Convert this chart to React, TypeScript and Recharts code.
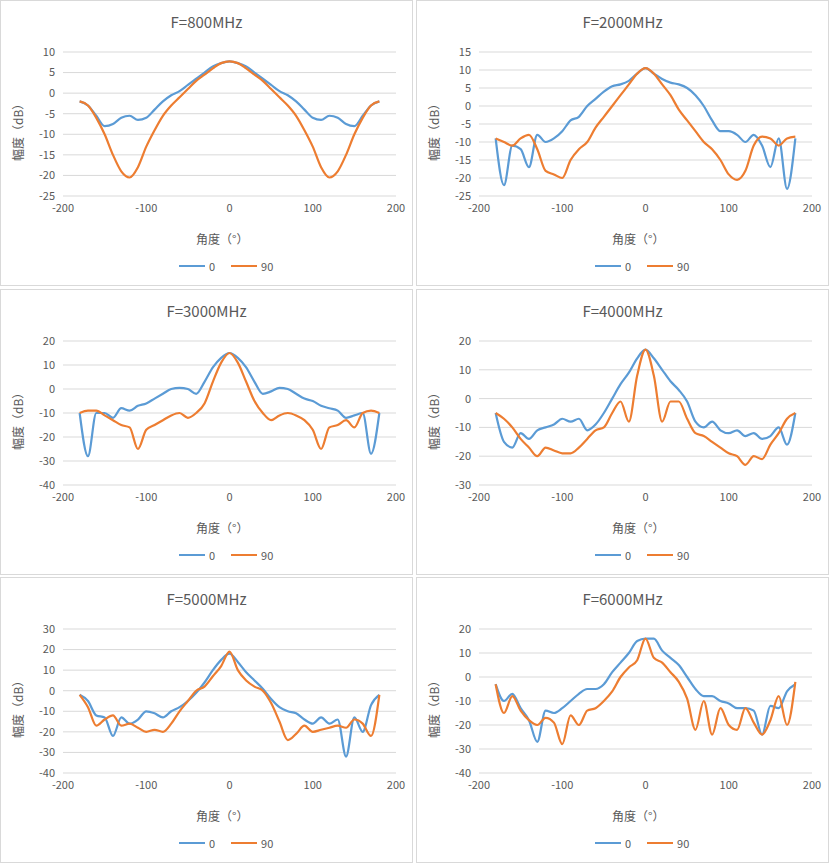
import React from 'react';
import { LineChart, Line, XAxis, YAxis, CartesianGrid } from 'recharts';

const ANGLES = [-180, -170, -160, -150, -140, -130, -120, -110, -100, -90, -80, -70, -60, -50, -40, -30, -20, -10, 0,
  10, 20, 30, 40, 50, 60, 70, 80, 90, 100, 110, 120, 130, 140, 150, 160, 170, 180];

const F800_0 = [-2, -3, -5.5, -8, -7.5, -6, -5.5, -6.5, -6, -4, -2, -0.5, 0.5, 2, 3.5, 5, 6.5, 7.3, 7.7,
  7.3, 6.5, 5, 3.5, 2, 0.5, -0.5, -2, -4, -6, -6.5, -5.5, -6, -7.5, -8, -5.5, -3, -2];
const F800_90 = [-2, -3, -6, -10, -15, -19, -20.5, -18, -13, -9, -5.5, -3, -1, 1, 3, 4.5, 6, 7.3, 7.7,
  7.3, 6, 4.5, 3, 1, -1, -3, -5.5, -9, -13, -18, -20.5, -19, -15, -10, -6, -3, -2];

const F2000_0 = [-9, -22, -11, -12, -17, -8, -10, -9, -7, -4, -3, 0, 2, 4, 5.5, 6, 7, 9, 10.5,
  9, 7.5, 6.5, 6, 5, 3, 0, -4, -7, -7, -8, -10, -8, -11, -17, -9, -23, -9];
const F2000_90 = [-9, -10, -11, -9, -8, -12, -18, -19, -20, -15, -12, -10, -6, -3, 0, 3, 6, 9, 10.5,
  9, 6, 3, -1, -4, -7, -10, -12, -15, -19, -20.5, -18, -11, -8.5, -9, -11, -9, -8.5];

const F3000_0 = [-10, -28, -10, -10, -12, -8, -9, -7, -6, -4, -2, 0, 0.5, 0, -2, 3, 9, 13, 15,
  13, 9, 3, -2, -1, 0.5, 0, -2, -4, -5, -7, -8, -9, -12, -11, -10, -27, -10];
const F3000_90 = [-10, -9, -9, -11, -13, -15, -16, -25, -17, -15, -13, -11, -10, -12, -10, -6, 3, 11, 15,
  11, 3, -5, -10, -13, -11, -10, -11, -13, -17, -25, -16, -15, -13, -16, -10, -9, -10];

const F4000_0 = [-5, -15, -17, -12, -14, -11, -10, -9, -7, -8, -7, -11, -9, -5, 0, 5, 9, 14, 17,
  14, 10, 6, 3, -1, -8, -10, -8, -11, -12, -11, -13, -12, -14, -13, -10, -16, -5];
const F4000_90 = [-5, -7, -10, -14, -17, -20, -17, -18, -19, -19, -17, -14, -11, -10, -5, -1, -8, 8, 17,
  8, -8, -1, -1, -7, -12, -13, -15, -17, -19, -20, -23, -20, -21, -16, -12, -7, -5];

const F5000_0 = [-2, -5, -12, -13, -22, -13, -16, -14, -10, -11, -13, -10, -8, -5, -1, 4, 10, 15, 18,
  14, 9, 5, 1, -4, -8, -10, -11, -14, -16, -13, -16, -14, -32, -13, -20, -7, -2];
const F5000_90 = [-2, -8, -17, -14, -12, -17, -16, -18, -20, -19, -20, -16, -10, -5, 0, 2, 7, 12, 19,
  10, 5, 2, 0, -6, -15, -24, -21, -17, -20, -19, -18, -17, -18, -14, -16, -22, -2];

const F6000_0 = [-3, -10, -7, -13, -18, -27, -14, -15, -13, -10, -7, -5, -5, -3, 2, 6, 10, 15, 16,
  16, 11, 8, 5, 0, -5, -8, -8, -10, -11, -13, -13, -14, -24, -12, -13, -6, -3];
const F6000_90 = [-3, -15, -8, -14, -18, -20, -17, -19, -28, -16, -20, -14, -13, -10, -6, 0, 4, 7, 16,
  8, 6, 2, -2, -9, -22, -10, -24, -13, -20, -22, -13, -19, -24, -18, -8, -20, -2];

const X_TICKS = [-200, -100, 0, 100, 200];

const PANELS = [
  { title: 'F=800MHz', s0: F800_0, s90: F800_90, y: [-25, 10], ticks: [-25, -20, -15, -10, -5, 0, 5, 10] },
  { title: 'F=2000MHz', s0: F2000_0, s90: F2000_90, y: [-25, 15], ticks: [-25, -20, -15, -10, -5, 0, 5, 10, 15] },
  { title: 'F=3000MHz', s0: F3000_0, s90: F3000_90, y: [-40, 20], ticks: [-40, -30, -20, -10, 0, 10, 20] },
  { title: 'F=4000MHz', s0: F4000_0, s90: F4000_90, y: [-30, 20], ticks: [-30, -20, -10, 0, 10, 20] },
  { title: 'F=5000MHz', s0: F5000_0, s90: F5000_90, y: [-40, 30], ticks: [-40, -30, -20, -10, 0, 10, 20, 30] },
  { title: 'F=6000MHz', s0: F6000_0, s90: F6000_90, y: [-40, 20], ticks: [-40, -30, -20, -10, 0, 10, 20] },
];

const BLUE = '#5b9bd5';
const ORANGE = '#ed7d31';
const FONT = '"Microsoft YaHei", "Noto Sans CJK SC", sans-serif';

const Panel = ({ p, left, top }: any) => {
  const data = ANGLES.map((a, i) => ({ a, s0: p.s0[i], s90: p.s90[i] }));
  return (
    <div style={{ position: 'absolute', left, top, width: 411, height: 284, border: '1px solid #d9d9d9', background: '#fff', fontFamily: FONT }}>
      <div style={{ position: 'absolute', top: 10, width: '100%', textAlign: 'center', fontSize: 15, color: '#595959' }}>{p.title}</div>
      <div style={{ position: 'absolute', left: 8, top: 160, transform: 'rotate(-90deg)', transformOrigin: 'left top', fontSize: 12, color: '#595959', whiteSpace: 'nowrap' }}>幅度（dB）</div>
      <div style={{ position: 'absolute', top: 229, left: 195, fontSize: 12, color: '#595959' }}>角度（°）</div>
      <div style={{ position: 'absolute', top: 257, left: 178, fontSize: 11, color: '#595959', display: 'flex', alignItems: 'center' }}>
        <span style={{ width: 26, height: 2, background: BLUE, display: 'inline-block', marginRight: 4 }} />0
        <span style={{ width: 26, height: 2, background: ORANGE, display: 'inline-block', margin: '0 4px 0 16px' }} />90
      </div>
      <LineChart width={411} height={284} data={data} margin={{ top: 51, right: 16, bottom: 59, left: 30 }} style={{ position: 'absolute', left: 0, top: 0 }}>
        <CartesianGrid vertical={false} stroke="#d9d9d9" />
        <XAxis dataKey="a" type="number" domain={[-200, 200]} ticks={X_TICKS} axisLine={false} tickLine={false}
          tick={{ fontSize: 11, fill: '#595959' }} />
        <YAxis type="number" domain={p.y} ticks={p.ticks} width={32} axisLine={false} tickLine={false}
          tick={{ fontSize: 11, fill: '#595959' }} interval={0} />
        <Line dataKey="s0" type="monotone" stroke={BLUE} strokeWidth={2.2} dot={false} isAnimationActive={false} />
        <Line dataKey="s90" type="monotone" stroke={ORANGE} strokeWidth={2.2} dot={false} isAnimationActive={false} />
      </LineChart>
    </div>
  );
};

export default function App() {
  return (
    <div style={{ position: 'absolute', left: 0, top: 0, width: 829, height: 863, background: '#fff' }}>
      {PANELS.map((p, i) => (
        <Panel key={p.title} p={p} left={i % 2 === 0 ? 0 : 416} top={Math.floor(i / 2) * 288.5} />
      ))}
    </div>
  );
}
